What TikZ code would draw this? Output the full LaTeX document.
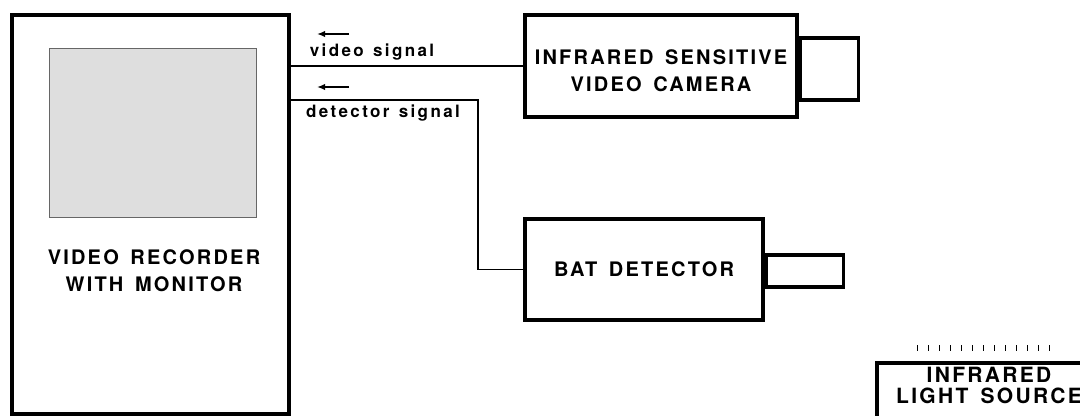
\documentclass[tikz,border=0pt]{standalone}
\usepackage{fontspec}
\setmainfont{TeX Gyre Heros}
\newfontfamily\capsfont{TeX Gyre Heros}[LetterSpace=11,WordSpace=1.5]
\newfontfamily\wirefont{TeX Gyre Heros}[LetterSpace=14,WordSpace=1.3]
\usetikzlibrary{arrows.meta,positioning}

\begin{document}
\begin{tikzpicture}[x=0.5pt, y=-0.5pt,
    unit/.style={draw, line width=2pt, inner sep=0pt},
    caption/.style={inner sep=0pt, align=center,
        font=\capsfont\bfseries\fontsize{10}{13.7}\selectfont},
    lens/.style={draw, line width=1.6pt, inner sep=0pt},
    wire/.style={line width=0.7pt},
    sig/.style={inner sep=0pt, font=\wirefont\bfseries\fontsize{8.5}{10}\selectfont},
    flow/.style={line width=1.1pt, -{Latex[length=4pt,width=3.2pt]}}]
    \useasboundingbox (0,0) rectangle (1080,416);
    \clip (0,0) rectangle (1080,416);

    % recorder with its monitor
    \node[unit, minimum width=138.5pt, minimum height=199.5pt] (recorder) at (150.5,214.5) {};
    \node[draw=black!60, line width=0.4pt, fill=black!13, inner sep=0pt,
        minimum width=103.5pt, minimum height=84.5pt] (screen) at (152.5,132.5) {};
    \node[caption] (reclabel) at (154,271) {VIDEO RECORDER\\WITH MONITOR};

    % camera and bat detector
    \node[unit, minimum width=136pt, minimum height=51pt] (camera) at (661,66) {};
    \node[caption] (camlabel) at (661,70.5) {INFRARED SENSITIVE\\VIDEO CAMERA};
    \node[lens, minimum width=29pt, minimum height=31pt, right=0pt of camera, yshift=-1.5pt] (camlens) {};
    \node[unit, caption, draw, minimum width=119pt, minimum height=50.5pt] (batdet) at (644,269.5) {BAT DETECTOR};
    \node[lens, minimum width=38.5pt, minimum height=16pt, right=0pt of batdet, yshift=-0.75pt] (batlens) {};

    % light source, cut at the edge
    \node[unit, minimum width=116.5pt, minimum height=43.5pt] (lightsrc) at (993.5,406.5) {};
    \node[caption, font=\capsfont\bfseries\fontsize{10.5}{10.5}\selectfont] (lightlabel) at (989,385.5)
        {INFRARED\\LIGHT SOURCE};
    \foreach \i in {0,...,12}
        \draw[line width=0.5pt] (917+\i*11,345) -- ++(0,6);

    % signal wires
    \draw[wire] (camera.west) -- (camera.west -| recorder.east);
    \coordinate (detbend) at (478,100);
    \draw[wire] (batdet.west) -| (detbend) -- (detbend -| recorder.east);

    \node[sig] (vidlabel) at (372,52) {video signal};
    \node[sig] (detlabel) at (383,113) {detector signal};
    \draw[flow] (349,34) -- (317,34);
    \draw[flow] (349,87) -- (317,87);
\end{tikzpicture}
\end{document}
